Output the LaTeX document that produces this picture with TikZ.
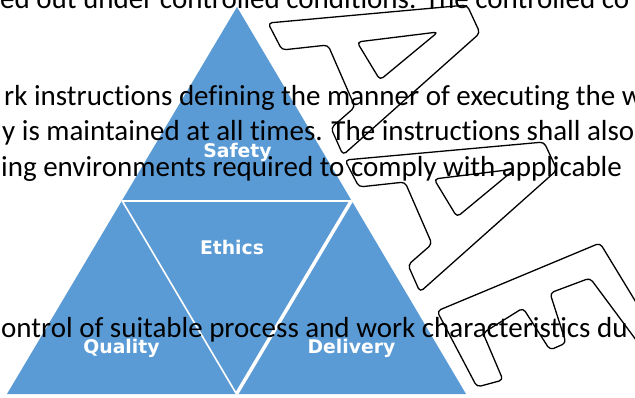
\documentclass[tikz,border=0pt]{standalone}
\usepackage{fontspec}
\setmainfont{Carlito}[Ligatures=NoCommon]
\newfontfamily\labfont{DejaVu Sans}
\usetikzlibrary{calc}
\definecolor{triblue}{HTML}{5B9BD5}
\begin{document}
\begin{tikzpicture}[x=1pt,y=-1pt,
  doc/.style={anchor=base west, inner sep=0pt, font=\fontsize{29}{35}\selectfont, text=black},
  lab/.style={anchor=base, inner sep=0pt, font=\labfont\bfseries\fontsize{18.8}{20}\selectfont, text=white},
  wm/.style={draw=black, line width=1.3pt, rounded corners=4pt, line join=round},
  sepline/.style={draw=white}]
\path[use as bounding box] (0,0) rectangle (635,397);
\clip (0,0) rectangle (635,397);
\fill[white] (0,0) rectangle (635,397);
% pyramid
\coordinate (T) at (237,7);
\coordinate (L) at (7,394);
\coordinate (R) at (466,394);
\coordinate (ML) at ($(T)!0.5!(L)$);
\coordinate (MR) at ($(T)!0.5!(R)$);
\coordinate (MB) at ($(L)!0.5!(R)$);
\fill[triblue] (T) -- (L) -- (R) -- cycle;
\draw[sepline, line width=2pt] (ML) -- (MR);
\draw[sepline, line width=1.6pt] (ML) -- (MB);
\draw[sepline, line width=3.5pt] (MR) -- (MB);
\node[lab] (safety) at (237.5,157) {Safety};
\node[lab] (ethics) at (232,254) {Ethics};
\node[lab] (quality) at (121.5,353) {Quality};
\node[lab] (delivery) at (351.5,353) {Delivery};
% watermark letters
\draw[wm] (268,23) -- (467,5) -- (480,33) -- (343,155) -- (331,128) -- (355,107) -- (328,45) -- (282,50) -- cycle;
\draw[wm] (357,42) -- (438,32) -- (380,80) -- cycle;
\begin{scope}[shift={(77,137)}]
\draw[wm] (268,23) -- (467,5) -- (480,33) -- (343,155) -- (331,128) -- (355,107) -- (328,45) -- (282,50) -- cycle;
\draw[wm] (357,42) -- (438,32) -- (380,80) -- cycle;
\end{scope}
\draw[wm] (437,311) -- (600,243) -- (662,345) -- (645,352) -- (590,278) -- (550,293) -- (566,343) -- (550,350) -- (523,308) -- (483,333) -- (503,380) -- (477,387) -- cycle;
% document text
\node[doc] (line1) at (0,8.5) {ed out under controlled conditions. The controlled co};
\node[doc] (line2) at (4,105) {rk instructions defining the manner of executing the w};
\node[doc] (line3) at (2,140.5) {y is maintained at all times. The instructions shall also};
\node[doc] (line4) at (1,176) {ing environments required to comply with applicable};
\node[doc] (line5) at (1,337) {ontrol of suitable process and work characteristics du};
\end{tikzpicture}
\end{document}
